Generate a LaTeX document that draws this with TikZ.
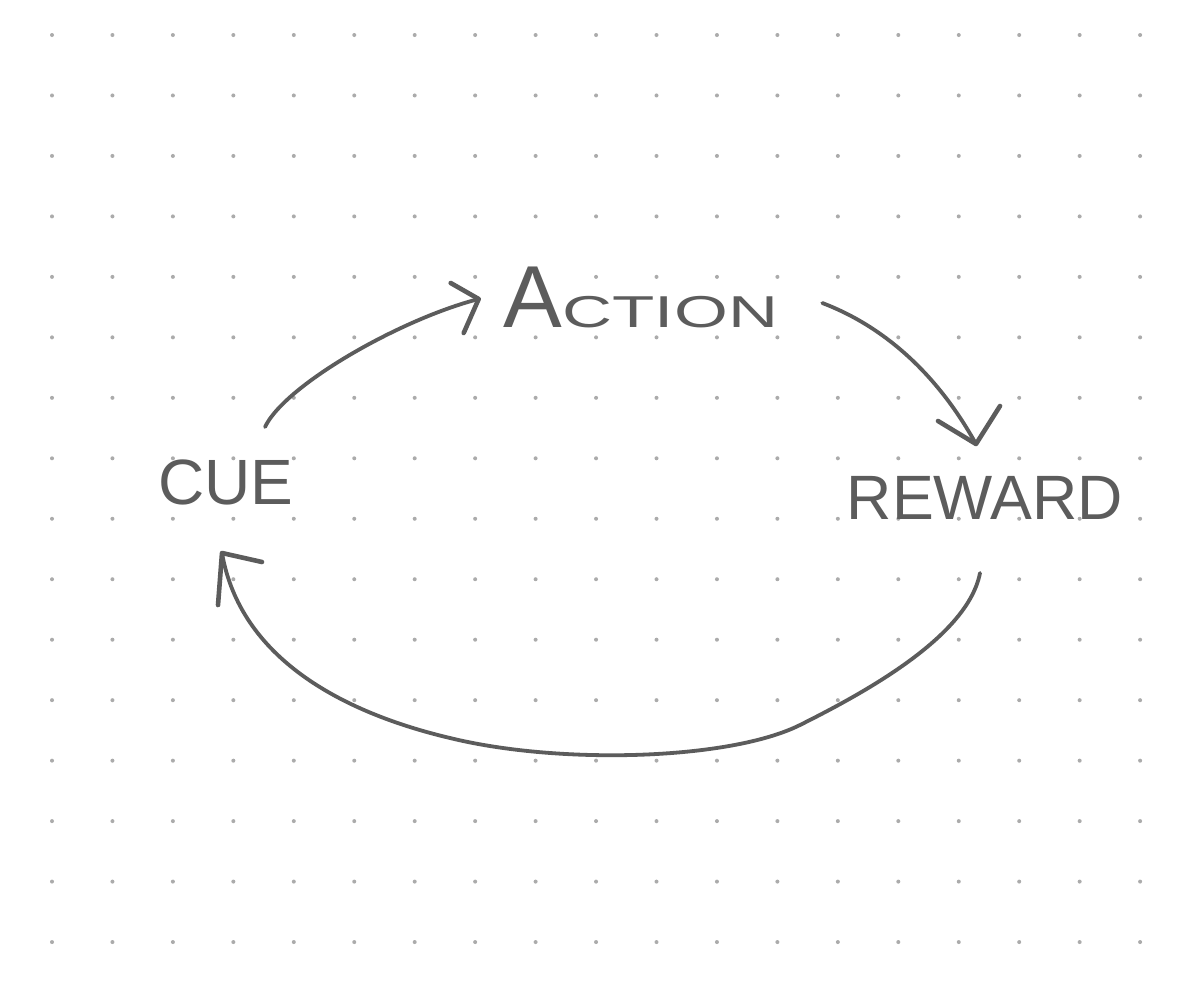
\documentclass[tikz,border=0pt]{standalone}
\usepackage{fontspec}
\usepackage{graphicx}
\setmainfont{Liberation Sans}
\usetikzlibrary{calc}
\definecolor{ink}{HTML}{5C5C5C}
\definecolor{dotc}{HTML}{ABABAB}
\tikzset{
  sketch/.style={draw=ink, line width=3.8pt*0.75, line cap=round, line join=round},
  headline/.style={draw=ink, line width=4.6pt*0.75, line cap=round, line join=round},
  word/.style={text=ink, inner sep=0pt, anchor=base}
}
\begin{document}
\begin{tikzpicture}[x=0.75pt,y=-0.75pt]
  \fill[white] (0,0) rectangle (1197,1000);
  \useasboundingbox (0,0) rectangle (1197,1000);
  % dot grid
  \foreach \i in {0,...,18}{
    \foreach \j in {0,...,15}{
      \fill[dotc] ({52+60.45*\i},{35+60.47*\j}) circle (2);
    }
  }
  % words
  \node[word, font=\fontsize{48}{50}\selectfont] (cue) at (226,504) {CUE};
  \node[word] (action) at (641,327)
    {\fontsize{66}{68}\selectfont A\fontsize{33.5}{36}\selectfont\scalebox{1.55}[1]{CTION}};
  \node[word, font=\fontsize{47}{50}\selectfont] (reward) at (985,519) {REWARD};
  % connector end points
  \coordinate (a1s) at ($(cue.base)+(39,-77)$);
  \coordinate (a1e) at ($(action.base west)+(-25,-28)$);
  \coordinate (a2s) at ($(action.base east)+(44,-24)$);
  \coordinate (a2e) at ($(reward.base)+(-9,-75)$);
  \coordinate (a3s) at ($(reward.base)+(-5,54)$);
  \coordinate (a3e) at ($(cue.base)+(-4,49)$);
  % cue -> action
  \draw[sketch] (a1s) .. controls ($(a1s)+(20,-42)$) and ($(a1e)+(-78,20)$) .. (a1e);
  \draw[headline] ($(a1e)+(-28,-16)$) -- (a1e) -- ($(a1e)+(-15,34)$);
  % action -> reward
  \draw[sketch] (a2s) .. controls ($(a2s)+(58,22)$) and ($(a2e)+(-41,-74)$) .. (a2e);
  \draw[headline] ($(a2e)+(-38,-23)$) -- (a2e) -- ($(a2e)+(24,-38)$);
  % reward -> cue
  \draw[sketch] (a3s) .. controls ($(a3s)+(-12,62)$) and (870,690) .. (800,725)
    .. controls (730,760) and (560,765) .. (450,738)
    .. controls (340,712) and ($(a3e)+(18,104)$) .. (a3e);
  \draw[headline] ($(a3e)+(-4,52)$) -- (a3e) -- ($(a3e)+(40,9)$);
\end{tikzpicture}
\end{document}
